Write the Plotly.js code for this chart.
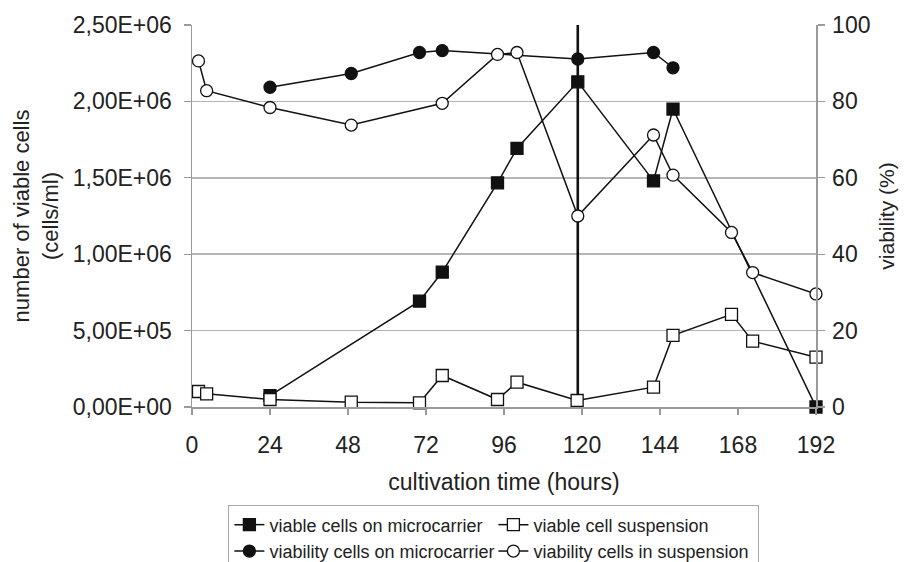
<!DOCTYPE html>
<html>
<head>
<meta charset="utf-8">
<script src="https://cdn.plot.ly/plotly-3.0.1.min.js"></script>
<style>html,body{margin:0;padding:0;background:#fff;}#chart{width:910px;height:562px;}</style>
</head>
<body>
<div id="chart"></div>
<script>
// ---- data ----
const xTickVals = [0, 24, 48, 72, 96, 120, 144, 168, 192];
const yTickVals = [0, 500000, 1000000, 1500000, 2000000, 2500000];
const yTickText = ["0,00E+00", "5,00E+05", "1,00E+06", "1,50E+06", "2,00E+06", "2,50E+06"];
const y2TickVals = [0, 20, 40, 60, 80, 100];

const tMicro = [24, 70, 77, 94, 100, 118.7, 142, 148, 192];
const cellsMicro = [75000, 693000, 883000, 1467000, 1692000, 2128000, 1480000, 1950000, 0];

const tSusp = [2, 4.5, 24, 49, 70, 77, 94, 100, 118.5, 142, 148, 166, 172.5, 192];
const cellsSusp = [101600, 86500, 49000, 31500, 27500, 206000, 49000, 162500, 42600, 130000, 468500, 606000, 431000, 326000];

const tViaMicro = [24, 49, 70, 77, 118.7, 142, 148];
const viaMicro = [83.7, 87.3, 92.8, 93.3, 91.1, 92.8, 88.8];

const tViaSusp = [2, 4.5, 24, 49, 77, 94, 100, 118.7, 142, 148, 166, 172.5, 192];
const viaSusp = [90.6, 82.8, 78.4, 73.8, 79.5, 92.3, 92.8, 50.0, 71.2, 60.7, 45.7, 35.2, 29.6];

const tVLine = [118.7, 118.7];
const cellsVLine = [0, 2500000];

const names = ["viable cells on microcarrier", "viable cell suspension",
               "viability cells on microcarrier", "viability cells in suspension"];

// ---- style ----
const FONT = "Liberation Sans, Arial, sans-serif";
const lineStyle = {color: "#111", width: 1.5};
const mk = (symbol, fill) => ({symbol: symbol, size: 12, color: fill, line: {color: "#111", width: 1.3}});

const traces = [
  {x: tVLine, y: cellsVLine, type: "scatter", mode: "lines", line: {color: "#111", width: 2.6},
   showlegend: false, hoverinfo: "skip", cliponaxis: false},
  {x: tMicro, y: cellsMicro, name: names[0], type: "scatter", mode: "lines+markers",
   line: lineStyle, marker: mk("square", "#111"), cliponaxis: false},
  {x: tSusp, y: cellsSusp, name: names[1], type: "scatter", mode: "lines+markers",
   line: lineStyle, marker: mk("square", "#fff"), cliponaxis: false},
  {x: tViaMicro, y: viaMicro, name: names[2], type: "scatter", mode: "lines+markers", yaxis: "y2",
   line: lineStyle, marker: mk("circle", "#111"), cliponaxis: false},
  {x: tViaSusp, y: viaSusp, name: names[3], type: "scatter", mode: "lines+markers", yaxis: "y2",
   line: lineStyle, marker: mk("circle", "#fff"), cliponaxis: false}
];

const axisColor = "#9a9a9a";
const layout = {
  width: 910, height: 562,
  margin: {l: 192, r: 94, t: 25, b: 155, pad: 0, autoexpand: false},
  paper_bgcolor: "#fff", plot_bgcolor: "#fff",
  font: {family: FONT, size: 23, color: "#222"},
  showlegend: true,
  xaxis: {
    range: [0, 192], tickvals: xTickVals, ticktext: xTickVals.map(String),
    showgrid: false, zeroline: false,
    showline: true, linecolor: axisColor, linewidth: 1.5,
    ticks: "outside", ticklen: 6, tickcolor: axisColor, tickwidth: 1.2,
    ticklabelstandoff: 11,
    tickfont: {family: FONT, size: 23, color: "#222"},
    title: {text: "cultivation time (hours)", font: {family: FONT, size: 23, color: "#222"}, standoff: 17},
    automargin: false
  },
  yaxis: {
    range: [0, 2500000], tickvals: yTickVals, ticktext: yTickText,
    showgrid: true, gridcolor: "#b5b5b5", gridwidth: 1.5, zeroline: false,
    showline: true, linecolor: axisColor, linewidth: 1.5,
    ticks: "outside", ticklen: 7, tickcolor: axisColor, tickwidth: 1.2,
    ticklabelstandoff: 7,
    tickfont: {family: FONT, size: 23, color: "#222"},
    title: {text: "number of viable cells<br>(cells/ml)", font: {family: FONT, size: 22, color: "#222"}, standoff: 8},
    automargin: false
  },
  yaxis2: {
    range: [0, 100], tickvals: y2TickVals, ticktext: y2TickVals.map(String),
    overlaying: "y", side: "right",
    showgrid: false, zeroline: false,
    showline: true, linecolor: axisColor, linewidth: 1.5,
    ticks: "outside", ticklen: 7, tickcolor: axisColor, tickwidth: 1.2,
    ticklabelstandoff: 3,
    tickfont: {family: FONT, size: 23, color: "#222"},
    title: {text: "viability (%)", font: {family: FONT, size: 21, color: "#222"}, standoff: 10},
    automargin: false
  },
  legend: {
    orientation: "h", xref: "paper", x: 0.058, xanchor: "left",
    yref: "container", y: 0.101, yanchor: "top",
    bgcolor: "#fff", bordercolor: "#aaa", borderwidth: 1.2,
    font: {family: FONT, size: 18, color: "#222"},
    entrywidth: 219, entrywidthmode: "pixels",
    itemwidth: 30, tracegroupgap: 0
  }
};

Plotly.newPlot("chart", traces, layout, {displayModeBar: false, responsive: false, staticPlot: true});
</script>
</body>
</html>
